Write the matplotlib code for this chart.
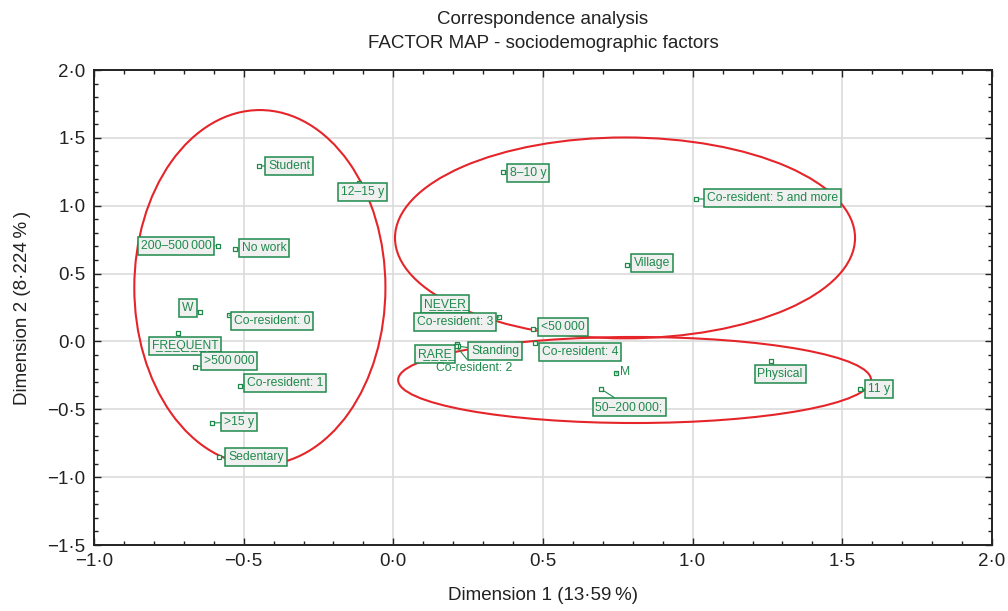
import numpy as np
import matplotlib
matplotlib.use("Agg")
import matplotlib.pyplot as plt
from matplotlib.patches import Ellipse
from matplotlib.ticker import MultipleLocator, FuncFormatter

plt.rcParams['font.family'] = ['Liberation Sans', 'DejaVu Sans']

# category coordinates
labels = ['Student', '12\u201315 y', '8\u201310 y', 'Co-resident: 5 and more',
          '200\u2013500\u2009000', 'No work', 'Village', 'W', 'Co-resident: 0',
          'NEVER', 'Co-resident: 3', '<50\u2009000', 'FREQUENT', 'Co-resident: 4',
          'RARE', 'Standing', 'Co-resident: 2', '>500\u2009000', 'M',
          'Co-resident: 1', '50\u2013200\u2009000;', 'Physical', '11 y', '>15 y',
          'Sedentary']
dim1 = [-0.449, -0.115, 0.366, 1.011, -0.586, -0.529, 0.781, -0.646, -0.549,
        0.130, 0.353, 0.467, -0.720, 0.473, 0.213, 0.216, 0.210, -0.663, 0.744,
        -0.512, 0.694, 1.262, 1.559, -0.605, -0.582]
dim2 = [1.293, 1.167, 1.248, 1.049, 0.705, 0.681, 0.563, 0.217, 0.194,
        0.210, 0.180, 0.092, 0.062, -0.012, -0.020, -0.035, -0.035, -0.188, -0.233,
        -0.329, -0.351, -0.144, -0.351, -0.601, -0.852]

# label layout (pixel offsets from the point), boxes, underlines
offsets = [(30, 0), (4, -9), (25, -1), (77, 1), (-42, 0), (29, 1), (25, 2),
           (-12, 4), (43, -6), (13, 9), (-44, -5), (30, 2), (7, -13), (45, -9),
           (-22, -10), (37, -5), (18, -22), (34, 6), (9, 1), (45, 3), (28, -18),
           (9, -13), (19, 0), (27, 1), (37, 0)]
no_box = ['Co-resident: 2', 'M']
underlined = ['NEVER', 'FREQUENT', 'RARE']

# group ellipses: centre x, centre y, width, height
ell_x = [-0.446, 0.774, 0.806]
ell_y = [0.397, 0.763, -0.284]
ell_w = [0.839, 1.537, 1.580]
ell_h = [2.616, 1.480, 0.634]

green = '#1f8a4c'
red = '#e5252a'
dark = '#222222'

fig = plt.figure(figsize=(10.08, 6.11), dpi=100)
ax = fig.add_axes([0.0933, 0.108, 0.8908, 0.7774])

ax.set_xlim(-1.0, 2.0)
ax.set_ylim(-1.5, 2.0)

ax.grid(True, which='major', color='#dcdcdc', lw=1.2)
ax.set_axisbelow(True)

for cx, cy, w, h in zip(ell_x, ell_y, ell_w, ell_h):
    ax.add_patch(Ellipse((cx, cy), w, h, fill=False, edgecolor=red, lw=1.5, zorder=4))

ax.scatter(dim1, dim2, marker='s', s=9, facecolor='white', edgecolor=green,
           linewidths=0.9, zorder=5)

for lab, x, y, (ox, oy) in zip(labels, dim1, dim2, offsets):
    txt = lab
    if lab in underlined:
        txt = ''.join(c + '\u0332' for c in lab)
    box = None
    if lab not in no_box:
        box = dict(boxstyle='square,pad=0.24', fc='#f0f0f0', ec=green, lw=1.1)
    ax.annotate(txt, (x, y), xytext=(ox, oy), textcoords='offset pixels',
                ha='center', va='center', fontsize=8.7, color=green, bbox=box,
                arrowprops=dict(arrowstyle='-', color=green, lw=0.8,
                                shrinkA=0, shrinkB=2),
                zorder=6)

fmt = FuncFormatter(lambda v, p: f"{v:.1f}".replace('.', '\u00b7').replace('-', '\u2212'))
ax.xaxis.set_major_locator(MultipleLocator(0.5))
ax.yaxis.set_major_locator(MultipleLocator(0.5))
ax.xaxis.set_minor_locator(MultipleLocator(0.1))
ax.yaxis.set_minor_locator(MultipleLocator(0.1))
ax.xaxis.set_major_formatter(fmt)
ax.yaxis.set_major_formatter(fmt)
ax.tick_params(which='both', direction='in', top=True, right=True, labelsize=13.5,
               colors=dark, width=1.0)
ax.tick_params(which='major', length=5, pad=6)
ax.tick_params(which='minor', length=3)
for s in ax.spines.values():
    s.set_linewidth(1.4)
    s.set_color(dark)

ax.set_xlabel('Dimension 1 (13\u00b759\u2009%)', fontsize=13.5, color=dark, labelpad=12)
ax.set_ylabel('Dimension 2 (8\u00b7224\u2009%\u2009)', fontsize=13.5, color=dark, labelpad=12)
ax.set_title('Correspondence analysis\nFACTOR MAP - sociodemographic factors',
             fontsize=13.5, color=dark, pad=16, linespacing=1.5)

fig.savefig('out.png', dpi=100)
